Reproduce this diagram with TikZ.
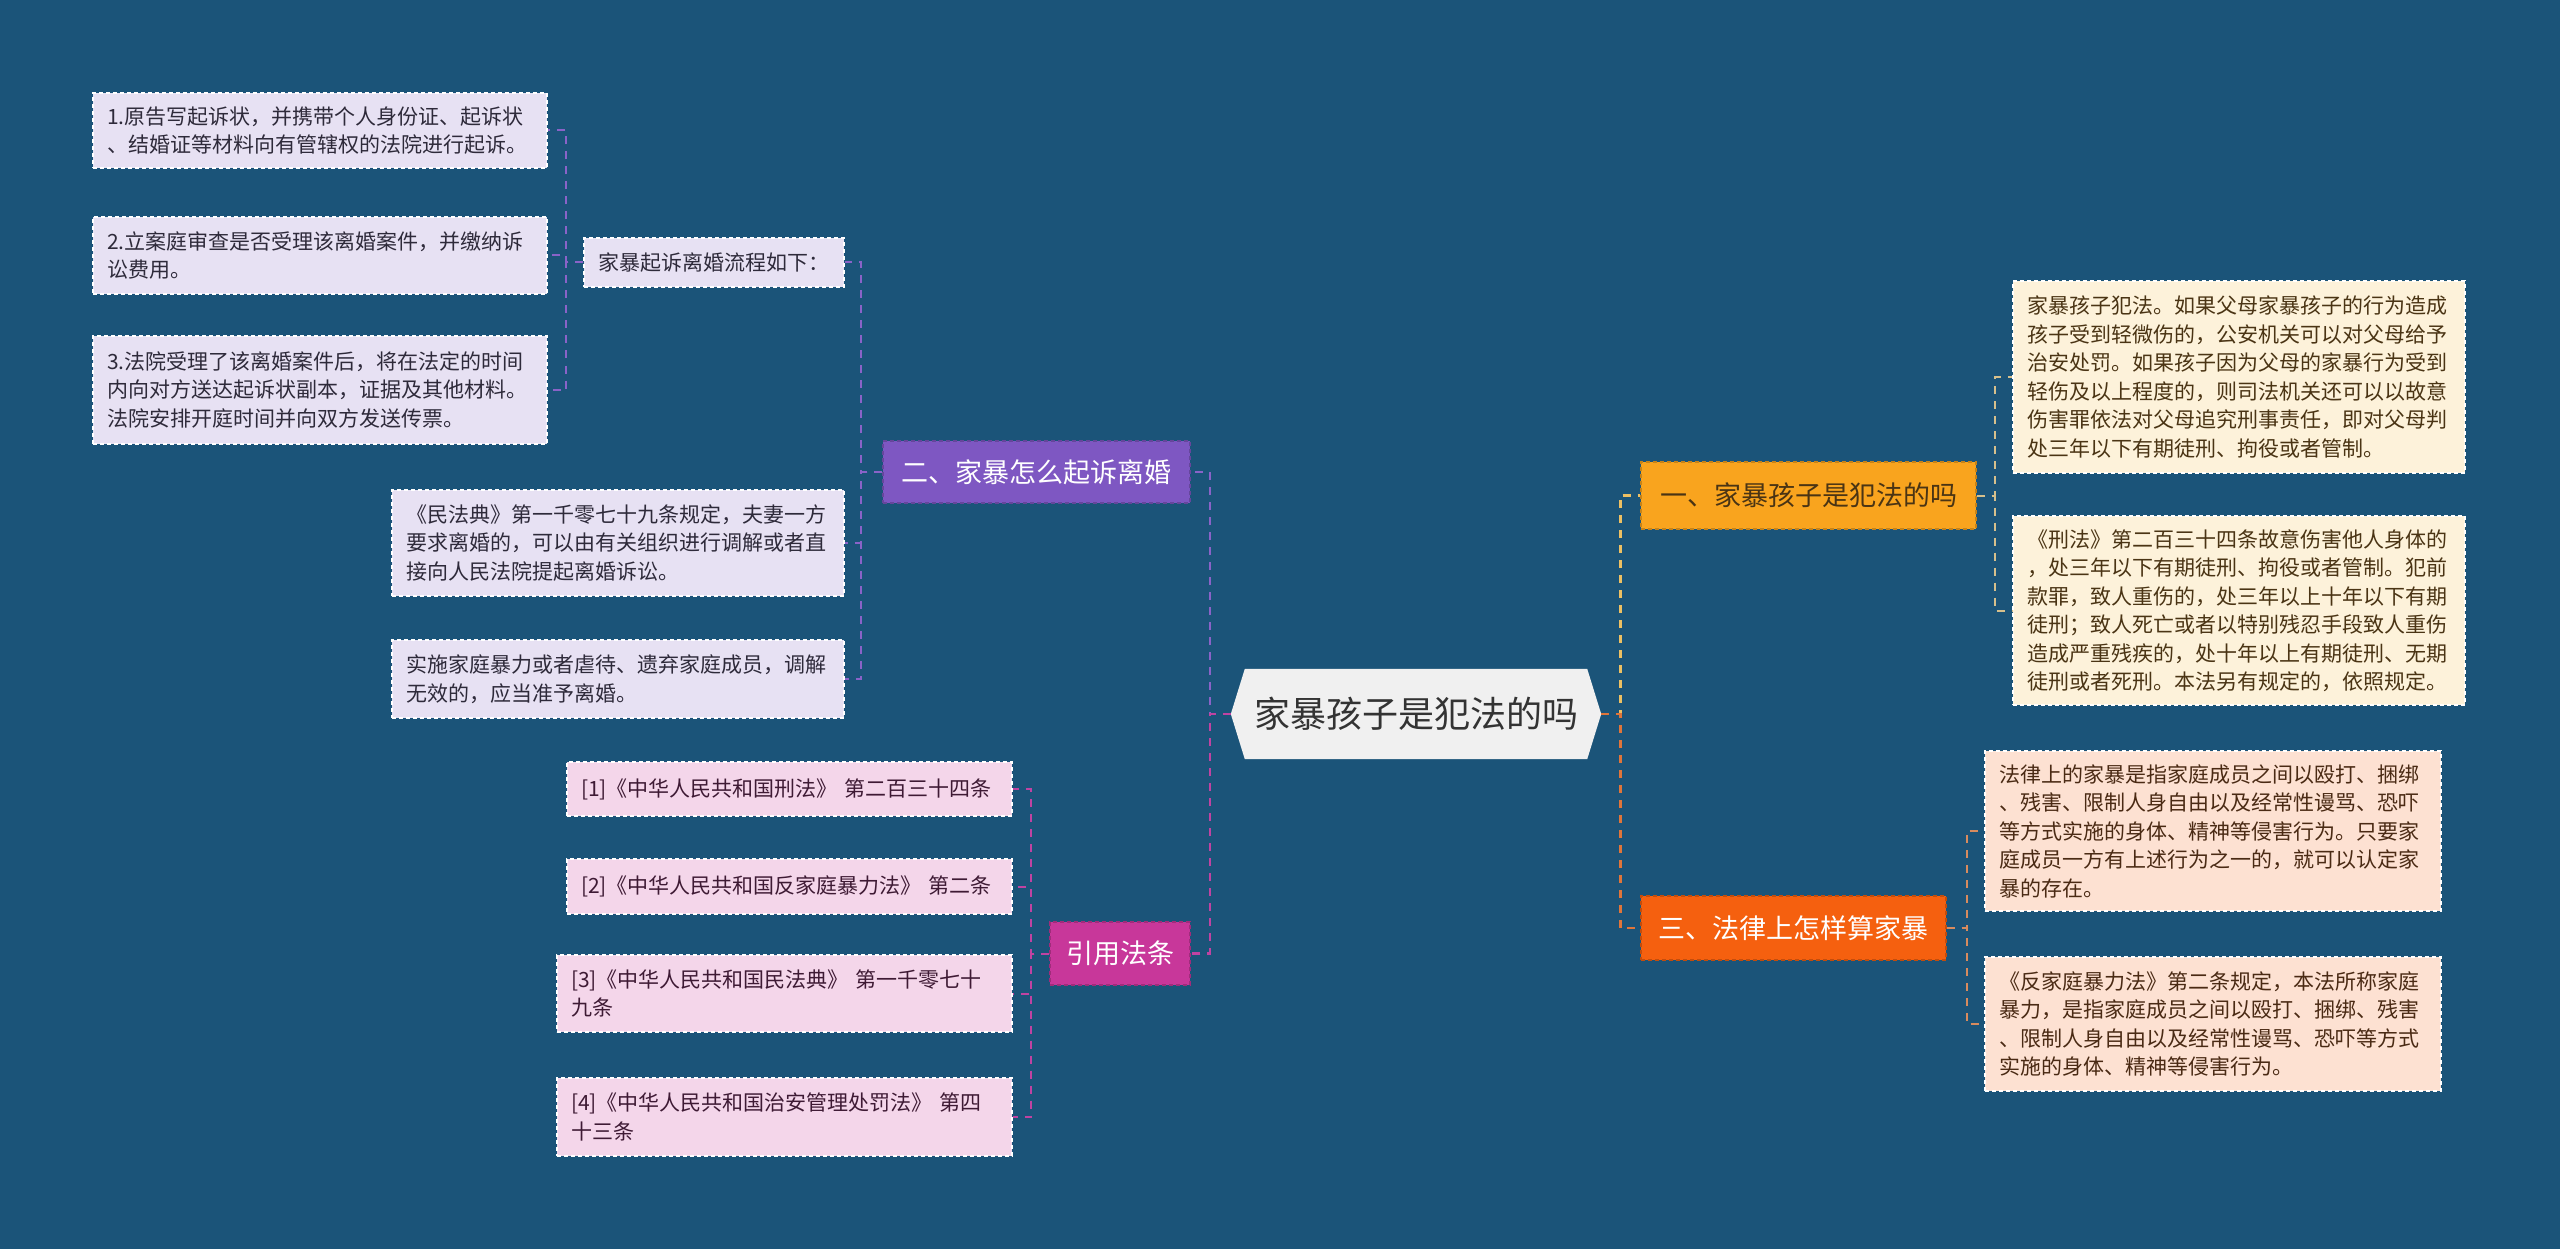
\documentclass[tikz,border=0pt]{standalone}
\usepackage{fontspec}
\setmainfont{Noto Sans CJK SC}
\usetikzlibrary{calc}
\pgfdeclarelayer{background}
\pgfsetlayers{background,main}
\definecolor{bgc}{HTML}{1B5479}
\definecolor{rootfill}{HTML}{F0F0F0}
\definecolor{bAfill}{HTML}{F9A41E}
\definecolor{bBfill}{HTML}{7E57C2}
\definecolor{bCfill}{HTML}{F5600F}
\definecolor{bDfill}{HTML}{C8379A}
\definecolor{lAfill}{HTML}{FDF2DA}
\definecolor{lBfill}{HTML}{E7E1F3}
\definecolor{lCfill}{HTML}{FDE1D2}
\definecolor{lDfill}{HTML}{F4D6EA}
\definecolor{lnA}{HTML}{EDC063}
\definecolor{lnB}{HTML}{8A63C8}
\definecolor{lnC}{HTML}{E0753A}
\definecolor{lnD}{HTML}{C043A2}
\definecolor{lnAs}{HTML}{D6C08C}
\definecolor{lnCs}{HTML}{D88B5E}
\definecolor{txA}{HTML}{4A3414}
\definecolor{txC}{HTML}{4A2A14}
\definecolor{txB}{HTML}{2E2A3A}
\definecolor{txD}{HTML}{3E1A34}
\begin{document}
\begin{tikzpicture}[x=1pt,y=-1pt,
  leafbox/.style={draw=white, dash pattern=on 4pt off 3pt, line width=1.2pt,
    inner xsep=14pt, inner ysep=0pt, align=left, anchor=center,
    font=\fontsize{21}{28.5}\selectfont},
  leafA/.style={leafbox, fill=lAfill, text=txA},
  leafB/.style={leafbox, fill=lBfill, text=txB},
  leafC/.style={leafbox, fill=lCfill, text=txC},
  leafD/.style={leafbox, fill=lDfill, text=txD},
  branchbox/.style={dash pattern=on 4pt off 3pt, line width=1.2pt,
    inner sep=0pt, align=center, anchor=center,
    font=\fontsize{27}{32}\selectfont},
  conn/.style={dash pattern=on 8pt off 7pt, line width=2.6pt},
  subconn/.style={dash pattern=on 8pt off 7pt, line width=2pt}
]
\begin{pgfonlayer}{background}
\fill[bgc] (0,0) rectangle (2560,1249);
\end{pgfonlayer}
\useasboundingbox (0,0) rectangle (2560,1249);

% root
\node[minimum width=370pt, minimum height=90pt, inner sep=0pt, text=black!80,
  font=\fontsize{36}{40}\selectfont] (root) at (1416,714) {家暴孩子是犯法的吗};
\begin{pgfonlayer}{background}
\fill[rootfill] (root.west) -- ([xshift=14pt]root.north west) -- ([xshift=-14pt]root.north east)
  -- (root.east) -- ([xshift=-14pt]root.south east) -- ([xshift=14pt]root.south west) -- cycle;
\end{pgfonlayer}

% branches
\node[branchbox, fill=bAfill, draw=bAfill!80!black, text=txA, minimum width=335pt, minimum height=67pt]
  (bA) at (1808.5,495.5) {一、家暴孩子是犯法的吗};
\node[branchbox, fill=bCfill, draw=bCfill!80!black, text=white, minimum width=305pt, minimum height=64pt]
  (bC) at (1793.5,928) {三、法律上怎样算家暴};
\node[branchbox, fill=bBfill, draw=bBfill!80!black, text=white, minimum width=307pt, minimum height=62pt]
  (bB) at (1036.5,472) {二、家暴怎么起诉离婚};
\node[branchbox, fill=bDfill, draw=bDfill!80!black, text=white, minimum width=140pt, minimum height=63pt]
  (bD) at (1120,953.5) {引用法条};

% right leaves
\node[leafA, text width=424pt, minimum height=192pt] (a1) at (2239,377) {家暴孩子犯法。如果父母家暴孩子的行为造成\\孩子受到轻微伤的，公安机关可以对父母给予\\治安处罚。如果孩子因为父母的家暴行为受到\\轻伤及以上程度的，则司法机关还可以以故意\\伤害罪依法对父母追究刑事责任，即对父母判\\处三年以下有期徒刑、拘役或者管制。};
\node[leafA, text width=424pt, minimum height=189pt] (a2) at (2239,610.5) {《刑法》第二百三十四条故意伤害他人身体的\\，处三年以下有期徒刑、拘役或者管制。犯前\\款罪，致人重伤的，处三年以上十年以下有期\\徒刑；致人死亡或者以特别残忍手段致人重伤\\造成严重残疾的，处十年以上有期徒刑、无期\\徒刑或者死刑。本法另有规定的，依照规定。};
\node[leafC, text width=428pt, minimum height=160pt] (c1) at (2213,831) {法律上的家暴是指家庭成员之间以殴打、捆绑\\、残害、限制人身自由以及经常性谩骂、恐吓\\等方式实施的身体、精神等侵害行为。只要家\\庭成员一方有上述行为之一的，就可以认定家\\暴的存在。};
\node[leafC, text width=428pt, minimum height=134pt] (c2) at (2213,1024) {《反家庭暴力法》第二条规定，本法所称家庭\\暴力，是指家庭成员之间以殴打、捆绑、残害\\、限制人身自由以及经常性谩骂、恐吓等方式\\实施的身体、精神等侵害行为。};

% left leaves
\node[leafB, text width=232pt, minimum height=49pt] (b1) at (714,262.5) {家暴起诉离婚流程如下：};
\node[leafB, text width=424pt, minimum height=106pt] (b2) at (618,543) {《民法典》第一千零七十九条规定，夫妻一方\\要求离婚的，可以由有关组织进行调解或者直\\接向人民法院提起离婚诉讼。};
\node[leafB, text width=424pt, minimum height=78pt] (b3) at (618,679) {实施家庭暴力或者虐待、遗弃家庭成员，调解\\无效的，应当准予离婚。};
\node[leafB, text width=426pt, minimum height=75pt] (g1) at (320,130.5) {1.原告写起诉状，并携带个人身份证、起诉状\\、结婚证等材料向有管辖权的法院进行起诉。};
\node[leafB, text width=426pt, minimum height=77pt] (g2) at (320,255.5) {2.立案庭审查是否受理该离婚案件，并缴纳诉\\讼费用。};
\node[leafB, text width=426pt, minimum height=108pt] (g3) at (320,390) {3.法院受理了该离婚案件后，将在法定的时间\\内向对方送达起诉状副本，证据及其他材料。\\法院安排开庭时间并向双方发送传票。};

\node[leafD, text width=417pt, minimum height=54pt] (d1) at (789.5,789) {[1]《中华人民共和国刑法》 第二百三十四条};
\node[leafD, text width=417pt, minimum height=55pt] (d2) at (789.5,886.5) {[2]《中华人民共和国反家庭暴力法》 第二条};
\node[leafD, text width=427pt, minimum height=77pt] (d3) at (784.5,993.5) {[3]《中华人民共和国民法典》 第一千零七十\\九条};
\node[leafD, text width=427pt, minimum height=78pt] (d4) at (784.5,1117) {[4]《中华人民共和国治安管理处罚法》 第四\\十三条};

% connectors root -> branches
\draw[conn, lnA] (root.east) -- ++(19,0) |- (bA.west);
\draw[conn, lnC] (root.east) -- ++(19,0) |- (bC.west);
\draw[conn, lnB] (root.west) -- ++(-21,0) |- (bB.east);
\draw[conn, lnD] (root.west) -- ++(-21,0) |- (bD.east);

% branch -> leaves
\draw[subconn, lnAs] (bA.east) -- ++(18,0) |- (a1.west);
\draw[subconn, lnAs] (bA.east) -- ++(18,0) |- (a2.west);
\draw[subconn, lnCs] (bC.east) -- ++(20,0) |- (c1.west);
\draw[subconn, lnCs] (bC.east) -- ++(20,0) |- (c2.west);
\draw[subconn, lnB] (bB.west) -- ++(-21,0) |- (b1.east);
\draw[subconn, lnB] (bB.west) -- ++(-21,0) |- (b2.east);
\draw[subconn, lnB] (bB.west) -- ++(-21,0) |- (b3.east);
\draw[subconn, lnB] (b1.west) -- ++(-17,0) |- (g1.east);
\draw[subconn, lnB] (b1.west) -- ++(-17,0) |- (g2.east);
\draw[subconn, lnB] (b1.west) -- ++(-17,0) |- (g3.east);
\draw[subconn, lnD] (bD.west) -- ++(-18,0) |- (d1.east);
\draw[subconn, lnD] (bD.west) -- ++(-18,0) |- (d2.east);
\draw[subconn, lnD] (bD.west) -- ++(-18,0) |- (d3.east);
\draw[subconn, lnD] (bD.west) -- ++(-18,0) |- (d4.east);
\end{tikzpicture}
\end{document}
